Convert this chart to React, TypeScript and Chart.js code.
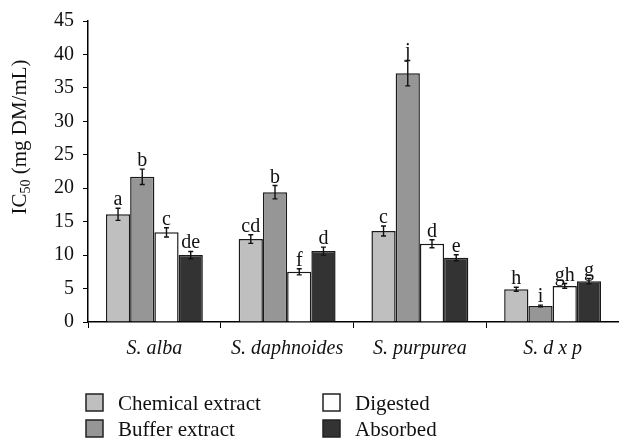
import React, { useEffect, useRef } from 'react';
import { Chart, registerables } from 'chart.js';

Chart.register(...registerables);

const categories = ['S. alba', 'S. daphnoides', 'S. purpurea', 'S. d x p'];
const seriesNames = ['Chemical extract', 'Buffer extract', 'Digested', 'Absorbed'];

const chemical = [16.1, 12.4, 13.6, 4.9];
const chemicalErr = [0.9, 0.65, 0.75, 0.3];
const chemicalLetters = ['a', 'cd', 'c', 'h'];

const buffer = [21.7, 19.4, 37.2, 2.4];
const bufferErr = [1.15, 1.0, 1.9, 0.12];
const bufferLetters = ['b', 'b', 'j', 'i'];

const digested = [13.4, 7.5, 11.7, 5.4];
const digestedErr = [0.7, 0.45, 0.6, 0.35];
const digestedLetters = ['c', 'f', 'd', 'gh'];

const absorbed = [10.0, 10.6, 9.6, 6.1];
const absorbedErr = [0.55, 0.6, 0.45, 0.4];
const absorbedLetters = ['de', 'd', 'e', 'g'];

const yMin = 0;
const yMax = 45;
const yStep = 5;

const colors = ['#bfbfbf', '#969696', '#ffffff', '#333333'];
const FONT = "'Liberation Serif', 'Times New Roman', serif";
const BORDER = '#1a1a1a';

const errorPlugin = {
  id: 'errorBars',
  afterDatasetsDraw(chart: any) {
    const ctx = chart.ctx;
    const y = chart.scales.y;
    chart.data.datasets.forEach((ds: any, di: number) => {
      const meta = chart.getDatasetMeta(di);
      meta.data.forEach((bar: any, i: number) => {
        const v = ds.data[i];
        const e = ds.errors[i];
        const x = bar.x;
        const yt = y.getPixelForValue(v + e);
        const yb = y.getPixelForValue(v - e);
        ctx.save();
        ctx.strokeStyle = '#111';
        ctx.lineWidth = 1.4;
        ctx.beginPath();
        ctx.moveTo(x, yt);
        ctx.lineTo(x, yb);
        ctx.moveTo(x - 2.5, yt);
        ctx.lineTo(x + 2.5, yt);
        ctx.moveTo(x - 2.5, yb);
        ctx.lineTo(x + 2.5, yb);
        ctx.stroke();
        ctx.fillStyle = '#111';
        ctx.font = `20px ${FONT}`;
        ctx.textAlign = 'center';
        ctx.textBaseline = 'alphabetic';
        ctx.fillText(ds.letters[i], x, yt - 3);
        ctx.restore();
      });
    });
  },
};

const decorPlugin = {
  id: 'decor',
  afterDraw(chart: any) {
    const ctx = chart.ctx;
    ctx.save();
    // Y axis title with subscript
    ctx.translate(26, 137);
    ctx.rotate(-Math.PI / 2);
    ctx.fillStyle = '#111';
    ctx.textBaseline = 'alphabetic';
    ctx.textAlign = 'left';
    const big = `21px ${FONT}`;
    const small = `14px ${FONT}`;
    ctx.font = big;
    const w1 = ctx.measureText('IC').width;
    const w3 = ctx.measureText(' (mg DM/mL)').width;
    ctx.font = small;
    const w2 = ctx.measureText('50').width;
    const x0 = -(w1 + w2 + w3) / 2;
    ctx.font = big;
    ctx.fillText('IC', x0, 0);
    ctx.font = small;
    ctx.fillText('50', x0 + w1, 4);
    ctx.font = big;
    ctx.fillText(' (mg DM/mL)', x0 + w1 + w2, 0);
    ctx.restore();

    // Legend
    ctx.save();
    const cols = [86, 323];
    const rows = [394, 420];
    const size = 17;
    seriesNames.forEach((name, i) => {
      const col = cols[Math.floor(i / 2)];
      const row = rows[i % 2];
      ctx.fillStyle = colors[i];
      ctx.fillRect(col, row, size, size);
      ctx.strokeStyle = '#222';
      ctx.lineWidth = 1.5;
      ctx.strokeRect(col, row, size, size);
      ctx.fillStyle = '#111';
      ctx.font = `21px ${FONT}`;
      ctx.textAlign = 'left';
      ctx.textBaseline = 'alphabetic';
      ctx.fillText(name, col + 32, row + 16);
    });
    ctx.restore();
  },
};

export default function App() {
  const ref = useRef<HTMLCanvasElement>(null);
  useEffect(() => {
    if (!ref.current) return;
    const values = [chemical, buffer, digested, absorbed];
    const errs = [chemicalErr, bufferErr, digestedErr, absorbedErr];
    const letters = [chemicalLetters, bufferLetters, digestedLetters, absorbedLetters];
    const chart = new Chart(ref.current, {
      type: 'bar',
      data: {
        labels: categories,
        datasets: seriesNames.map((name, i) => ({
          label: name,
          data: values[i],
          errors: errs[i],
          letters: letters[i],
          backgroundColor: colors[i],
          borderColor: BORDER,
          borderWidth: 1.5,
          categoryPercentage: 0.73,
          barPercentage: 1.0,
        })) as any,
      },
      options: {
        animation: false,
        responsive: false,
        devicePixelRatio: 1,
        layout: { padding: { top: 21, right: 0, left: 0, bottom: 0 } },
        plugins: {
          legend: { display: false },
          tooltip: { enabled: false },
          title: { display: false },
        },
        scales: {
          x: {
            type: 'category',
            offset: true,
            grid: {
              display: true,
              drawOnChartArea: false,
              drawTicks: true,
              tickLength: 6,
              color: '#000',
              offset: true,
            },
            border: { display: true, color: '#000', width: 1.5 },
            ticks: {
              font: { family: FONT, size: 20, style: 'italic' },
              color: '#111',
              padding: 9,
              maxRotation: 0,
            },
            afterFit: (s: any) => {
              s.height = 116;
            },
          },
          y: {
            min: yMin,
            max: yMax,
            ticks: {
              stepSize: yStep,
              font: { family: FONT, size: 20 },
              color: '#111',
              padding: 9,
            },
            grid: {
              drawOnChartArea: false,
              drawTicks: true,
              tickLength: 5,
              color: '#000',
            },
            border: { display: true, color: '#000', width: 1.5 },
            afterFit: (s: any) => {
              s.width = 88;
            },
          },
        },
      },
      plugins: [errorPlugin, decorPlugin],
    });
    return () => chart.destroy();
  }, []);

  return (
    <div style={{ position: 'fixed', left: 0, top: 0, width: 619, height: 438, background: '#fff' }}>
      <canvas ref={ref} width={619} height={438} style={{ width: 619, height: 438 }} />
    </div>
  );
}
